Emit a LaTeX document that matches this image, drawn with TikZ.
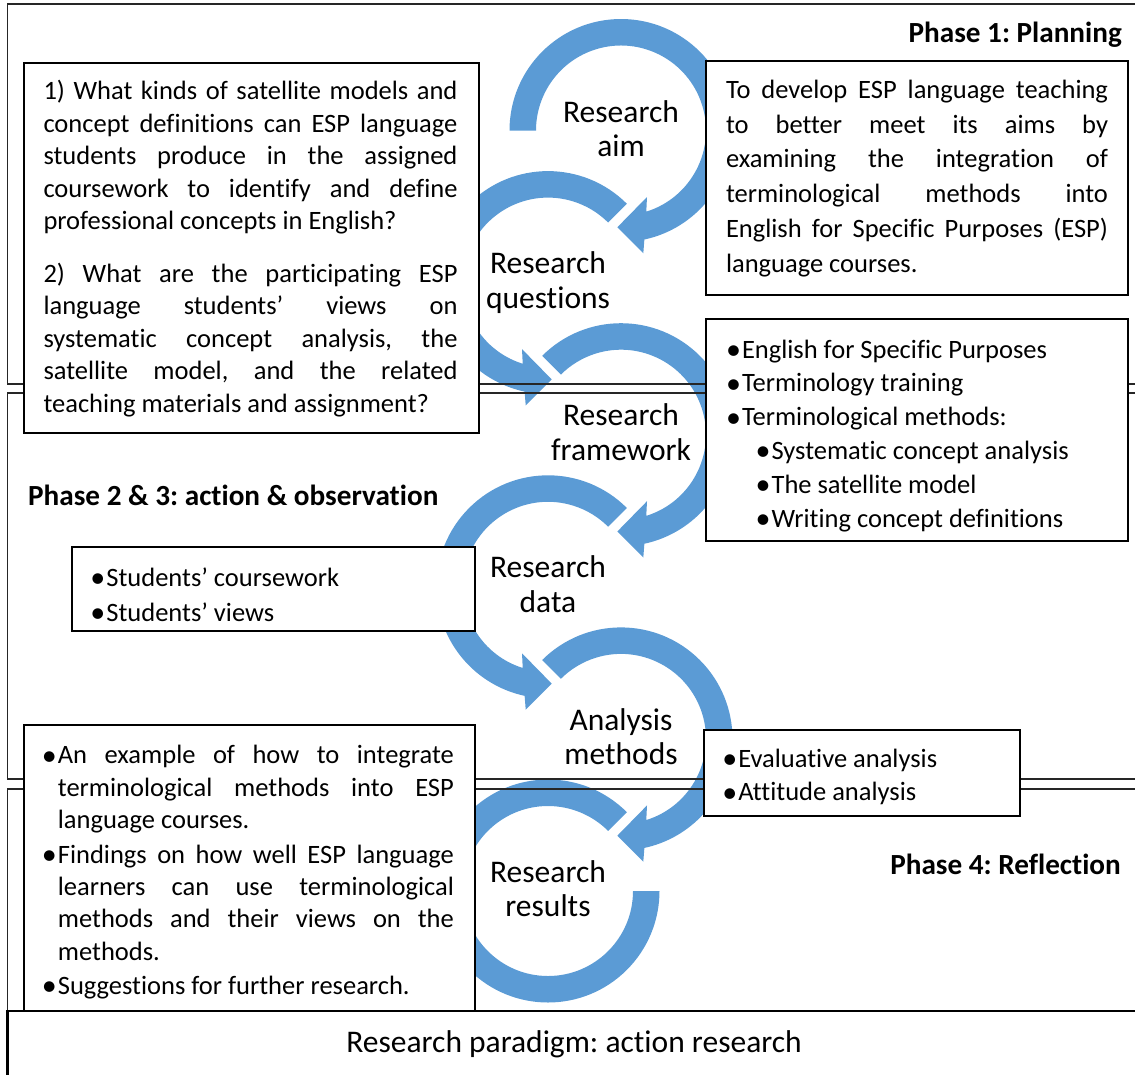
\documentclass[tikz,border=0pt]{standalone}
\usepackage{fontspec}
\setmainfont{Carlito}[Ligatures={NoCommon}]
\definecolor{arrowblue}{HTML}{5B9BD5}
\newcommand\bul{\makebox[14pt][c]{\hspace{-3pt}\raisebox{-1.2pt}{\fontsize{30}{30}\selectfont •}}}
\newcommand\bodyfs[1]{\fontsize{26.5}{#1}\selectfont}
% clockwise circular arrow: centre x, centre y, start angle
\newcommand\cwarrow[3]{%
  \begin{scope}[shift={(#1,#2)}, x=1pt, y=1pt]
    \fill[arrowblue] (#3:111.5) arc[start angle=#3, end angle=-77.9, radius=111.5pt]
      -- (22.3,-122.8) -- (-3.7,-96.8) -- (26,-66.5) -- (-72.7:85)
      arc[start angle=-72.7, end angle=#3, radius=85pt] -- cycle;
  \end{scope}}
% counter-clockwise circular arrow
\newcommand\ccwarrow[3]{%
  \begin{scope}[shift={(#1,#2)}, x=1pt, y=1pt]
    \fill[arrowblue] (#3:111.5) arc[start angle=#3, end angle=257.9, radius=111.5pt]
      -- (-22.3,-122.8) -- (3.7,-96.8) -- (-26,-66.5) -- (252.7:85)
      arc[start angle=252.7, end angle=#3, radius=85pt] -- cycle;
  \end{scope}}
\begin{document}
\frenchspacing
\begin{tikzpicture}[x=1pt, y=-1pt,
  frame/.style={draw=black!85, line width=1.8pt},
  box/.style={draw=black, line width=1.2pt, fill=white, inner sep=0pt, outer sep=0pt, anchor=north west},
  txt/.style={inner sep=0pt, outer sep=0pt, anchor=north west},
  lab/.style={inner sep=0pt, align=center, font={\fontsize{31.5}{34.5}\selectfont}},
  phase/.style={inner sep=0pt, font={\bfseries\fontsize{29.2}{35}\selectfont}}]
\useasboundingbox (0,0) rectangle (1135,1074);

% circular arrows
\cwarrow{621}{130.5}{180}
\ccwarrow{548}{282.6}{45}
\cwarrow{621}{434.7}{135}
\ccwarrow{548}{586.8}{45}
\cwarrow{621}{738.9}{135}
\begin{scope}[shift={(548,891)}, x=1pt, y=1pt]
  \fill[arrowblue] (45:111.5) arc[start angle=45, end angle=360, radius=111.5pt]
    -- (0:85) arc[start angle=360, end angle=45, radius=85pt] -- cycle;
\end{scope}

% phase frames
\draw[frame] (7.5,4) rectangle (1137,384);
\draw[frame] (7.5,393) rectangle (1137,779);
\draw[frame] (7.5,789) rectangle (1137,1011);
\draw[frame, line width=2.6pt, draw=black] (7.5,1011) rectangle (1137,1077);

% boxes
\node[box, minimum width=455pt, minimum height=370pt] (rqbox) at (24,63) {};
\node[box, minimum width=422pt, minimum height=234pt] (aimbox) at (706,61) {};
\node[box, minimum width=422pt, minimum height=222pt] (fwbox) at (706,319) {};
\node[box, minimum width=403pt, minimum height=84pt] (databox) at (72,547) {};
\node[box, minimum width=451pt, minimum height=286pt] (resbox) at (24,725) {};
\node[box, minimum width=316pt, minimum height=86pt] (anbox) at (704,730) {};

% box texts
\node[txt, text width=414pt, align=justify, font={\bodyfs{32.5}}] (rqtext) at (43.5,77)
 {\strut 1) What kinds of satellite models and\linebreak concept definitions can ESP language\linebreak students produce in the assigned\linebreak coursework to identify and define\linebreak professional concepts in English?\par\vspace{20.2pt}2) What are the participating ESP\linebreak language students’ views on\linebreak systematic concept analysis, the\linebreak satellite model, and the related\linebreak teaching materials and assignment?};

\node[txt, text width=382pt, align=justify, font={\bodyfs{34.8}}] (aimtext) at (726,74)
 {\strut To develop ESP language teaching\linebreak to better meet its aims by\linebreak examining the integration of\linebreak terminological methods into\linebreak English for Specific Purposes (ESP)\linebreak language courses.};

\node[txt, align=left, font={\bodyfs{33.9}}] (fwtext) at (728,334.3)
 {\strut\bul English for Specific Purposes\\
  \bul Terminology training\\
  \bul Terminological methods:\\
  \hspace*{29.6pt}\bul Systematic concept analysis\\
  \hspace*{29.6pt}\bul The satellite model\\
  \hspace*{29.6pt}\bul Writing concept definitions};

\node[txt, align=left, font={\bodyfs{35}}] (datatext) at (92.4,561.5)
 {\strut\bul Students’ coursework\\ \bul Students’ views};

\node[txt, text width=410pt, align=justify, font={\bodyfs{32.4}}] (restext) at (43.9,741.3)
 {\strut\hangindent=14pt\hangafter=1\bul An example of how to integrate\linebreak terminological methods into ESP\linebreak language courses.\par\vspace{2pt}%
  \hangindent=14pt\hangafter=1\bul Findings on how well ESP language\linebreak learners can use terminological\linebreak methods and their views on the\linebreak methods.\par\vspace{2pt}%
  \hangindent=14pt\hangafter=1\bul Suggestions for further research.};

\node[txt, align=left, font={\bodyfs{33.3}}] (antext) at (724.3,744.2)
 {\strut\bul Evaluative analysis\\ \bul Attitude analysis};

% circle labels
\node[lab] (laim) at (621,132.5) {\strut Research\\\strut aim};
\node[lab] (lrq) at (548,284.1) {\strut Research\\\strut questions};
\node[lab] (lfw) at (621,436.2) {\strut Research\\\strut framework};
\node[lab] (ldata) at (548,588.3) {\strut Research\\\strut data};
\node[lab] (lan) at (621,740.4) {\strut Analysis\\\strut methods};
\node[lab] (lres) at (548,892.5) {\strut Research\\\strut results};

% phase labels
\node[phase, anchor=base east] (p1) at (1122,42) {Phase 1: Planning};
\node[phase, anchor=base west] (p23) at (28,505) {Phase 2 \& 3: action \& observation};
\node[phase, anchor=base east] (p4) at (1121,874) {Phase 4: Reflection};

\node[inner sep=0pt, anchor=base, font={\fontsize{31.5}{35}\selectfont}] (para) at (574,1052)
 {Research paradigm: action research};
\end{tikzpicture}
\end{document}
